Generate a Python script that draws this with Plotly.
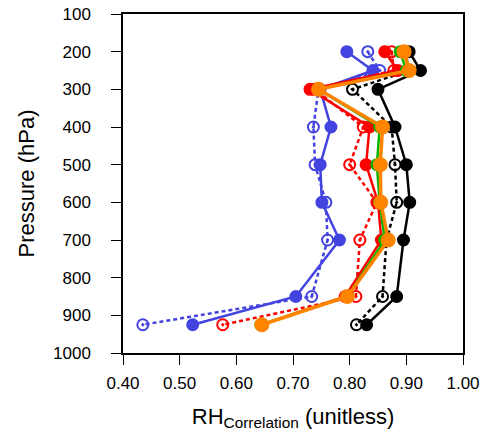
import plotly.graph_objects as go

pressure = [200, 250, 300, 400, 500, 600, 700, 850, 925]

blue_solid = [0.795, 0.841, 0.748, 0.767, 0.748, 0.751, 0.782, 0.705, 0.523]
blue_dot = [0.832, 0.853, 0.745, 0.736, 0.739, 0.758, 0.761, 0.733, 0.435]
red_solid = [0.862, 0.885, 0.730, 0.835, 0.829, 0.850, 0.856, 0.792, 0.645]
red_dot = [0.874, 0.878, 0.738, 0.824, 0.800, 0.848, 0.818, 0.811, 0.576]
black_solid = [0.905, 0.925, 0.850, 0.880, 0.900, 0.906, 0.895, 0.883, 0.830]
black_dot = [0.898, 0.905, 0.805, 0.874, 0.880, 0.883, 0.865, 0.858, 0.812]
green_solid = [0.889, 0.900, 0.745, 0.853, 0.848, 0.853, 0.862, 0.796, 0.643]
orange_solid = [0.896, 0.905, 0.745, 0.858, 0.854, 0.855, 0.868, 0.796, 0.645]

x_ticks = [0.4, 0.5, 0.6, 0.7, 0.8, 0.9, 1.0]
y_ticks = [100, 200, 300, 400, 500, 600, 700, 800, 900, 1000]

BLUE = "#4343E0"
RED = "#FF0000"
BLACK = "#000000"
GREEN = "#00B400"
ORANGE = "#FF8400"

fig = go.Figure()

def add(x, color, dashed, width=2.5, msize=11):
    fig.add_trace(go.Scatter(
        x=x, y=pressure, mode="lines+markers",
        line=dict(color=color, width=width, dash="4px,3px" if dashed else "solid"),
        marker=dict(
            symbol="circle-open-dot" if dashed else "circle",
            size=msize, color=color,
            line=dict(color=color, width=2),
        ),
        showlegend=False,
    ))

add(black_dot, BLACK, True)
add(black_solid, BLACK, False)
add(blue_dot, BLUE, True)
add(blue_solid, BLUE, False)
add(red_dot, RED, True)
add(red_solid, RED, False)
add(green_solid, GREEN, False)
add(orange_solid, ORANGE, False, width=3.5, msize=13)

font_family = "Liberation Sans, Arial, sans-serif"

fig.update_layout(
    width=489, height=437,
    margin=dict(l=115, r=34, t=6, b=92, autoexpand=False),
    plot_bgcolor="white", paper_bgcolor="white",
    font=dict(family=font_family, color="black", size=17),
    xaxis=dict(
        range=[0.4, 1.0], tickvals=x_ticks, tickformat=".2f",
        showgrid=False, zeroline=False, automargin=False,
        showline=True, linecolor="black", linewidth=1.5, mirror=True,
        ticks="outside", ticklen=10, tickwidth=1, tickcolor="black",
        ticklabelstandoff=4, ticklabeloverflow="allow",
        tickfont=dict(size=17),
        title=dict(text="RH<sub>Correlation</sub> (unitless)", font=dict(size=22), standoff=16),
    ),
    yaxis=dict(
        range=[1000, 100], tickvals=y_ticks,
        showgrid=False, zeroline=False, automargin=False,
        showline=True, linecolor="black", linewidth=1.5, mirror=True,
        ticks="outside", ticklen=10, tickwidth=1, tickcolor="black",
        ticklabelstandoff=17, ticklabeloverflow="allow",
        tickfont=dict(size=17),
        title=dict(text="Pressure (hPa)", font=dict(size=22), standoff=12),
    ),
)

fig.add_annotation(
    text="(c)&nbsp;&nbsp; RH<sub>Correlation</sub>", xref="paper", yref="paper",
    x=0.0, y=1.0, xanchor="left", yanchor="bottom", yshift=12, xshift=2,
    showarrow=False, font=dict(size=22, family=font_family),
)
fig.add_annotation(
    text="1.00", xref="paper", yref="paper",
    x=0.0, y=0.0, xanchor="right", yanchor="top", xshift=-115, yshift=-22,
    showarrow=False, font=dict(size=17, family=font_family),
)

fig.write_html("out.html")
